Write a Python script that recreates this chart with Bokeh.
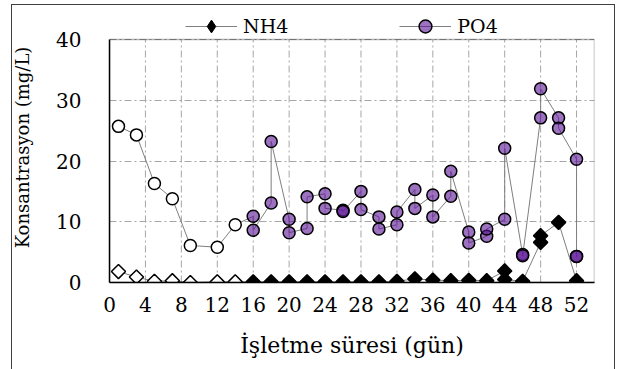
from bokeh.plotting import figure
from bokeh.models import Legend, LegendItem, FixedTicker, InlineStyleSheet, BoxAnnotation
from bokeh.embed import file_html
from bokeh.resources import INLINE

# ---- data ----
po4_days = [1, 3, 5, 7, 9, 12, 14,
            16, 16, 18, 18, 20, 20, 22, 22, 24, 24, 26, 26, 28, 28, 30, 30,
            32, 32, 34, 34, 36, 36, 38, 38, 40, 40, 42, 42, 44, 44, 46, 46,
            48, 48, 50, 50, 52, 52, 52]
po4_vals = [25.7, 24.3, 16.3, 13.8, 6.1, 5.8, 9.5,
            10.9, 8.6, 13.1, 23.2, 10.4, 8.2, 8.9, 14.1, 14.6, 12.2, 11.9, 11.7, 15.0, 12.0, 10.8, 8.8,
            9.5, 11.6, 15.3, 12.2, 14.4, 10.8, 14.2, 18.3, 8.3, 6.5, 7.6, 8.8, 10.4, 22.1, 4.6, 4.4,
            27.1, 31.9, 27.1, 25.4, 20.3, 4.3, 4.3]

nh4_days = [1, 3, 5, 7, 9, 12, 14,
            16, 18, 20, 22, 24, 26, 28, 30, 32, 34, 36, 38, 40, 42, 44, 44, 46,
            48, 48, 50, 52]
nh4_vals = [1.8, 0.9, 0.2, 0.3, 0.0, 0.1, 0.1,
            0.1, 0.1, 0.1, 0.1, 0.1, 0.1, 0.1, 0.1, 0.2, 0.6, 0.4, 0.3, 0.35, 0.3, 1.9, 0.5, 0.2,
            6.6, 7.7, 9.9, 0.3]

n_start = 7  # first samples (days 1-14) drawn with open markers

x_ticks = [0, 4, 8, 12, 16, 20, 24, 28, 32, 36, 40, 44, 48, 52]
y_ticks = [0, 10, 20, 30, 40]
x_max = 54
y_max = 40

FONT = "DejaVu Serif"
line_color = "#7f7f7f"
grid_color = "#a6a6a6"
purple = "#5a1496"

# frame extends above the plot area to leave room for the legend
top_px, bottom_px, height = 12, 87, 369
frame_h = height - top_px - bottom_px
area_h = frame_h - (39 - top_px)
y_top = y_max * frame_h / area_h

p = figure(width=624, height=height, x_range=(0, x_max), y_range=(0, y_top),
           output_backend="svg", toolbar_location=None,
           min_border_left=109, min_border_right=30,
           min_border_top=top_px, min_border_bottom=bottom_px)

p.background_fill_color = "white"
p.border_fill_color = "white"
p.outline_line_color = None

# outer chart border (CSS, does not affect layout)
p.stylesheets = [InlineStyleSheet(css="""
:host { overflow: hidden; }
:host::after { content: ''; position: absolute; left: 11px; top: 4px;
  width: 604px; height: 365px; border: 1.5px solid #404040; border-bottom: none;
  pointer-events: none; box-sizing: border-box; z-index: 10; }
""")]

# horizontal grid
p.ygrid.grid_line_color = grid_color
p.ygrid.grid_line_dash = "7 3 2 3"
p.ygrid.grid_line_width = 1
p.xgrid.visible = False
p.xaxis.ticker = FixedTicker(ticks=x_ticks)
p.yaxis.ticker = FixedTicker(ticks=y_ticks)
p.yaxis.bounds = (0, y_max)

# vertical grid lines limited to the plot area
vx = x_ticks[1:]
p.segment(x0=vx, y0=[0] * len(vx), x1=vx, y1=[y_max] * len(vx),
          line_color=grid_color, line_dash="7 3 2 3", line_width=1)

# plot area border
p.add_layout(BoxAnnotation(left=0, right=x_max, bottom=0, top=y_max,
                           fill_alpha=0, line_color="black", line_width=1.5))

for ax in (p.xaxis, p.yaxis):
    ax.axis_line_color = "black"
    ax.axis_line_width = 1.5
    ax.major_tick_line_color = None
    ax.minor_tick_line_color = None
    ax.major_label_text_font = FONT
    ax.major_label_text_font_size = "20px"
    ax.major_label_text_color = "black"
    ax.axis_label_text_font = FONT
    ax.axis_label_text_font_size = "22px"
    ax.axis_label_text_font_style = "normal"
    ax.axis_label_text_color = "black"

p.xaxis.major_label_standoff = 8
p.yaxis.major_label_standoff = 22
p.xaxis.axis_label = "İşletme süresi (gün)"
p.yaxis.axis_label = "Konsantrasyon (mg/L)"
p.xaxis.axis_label_standoff = 18
p.yaxis.axis_label_standoff = 20
p.yaxis.axis_label_text_font_size = "18px"

po4_line = p.line(po4_days, po4_vals, line_color=line_color, line_width=1)
nh4_line = p.line(nh4_days, nh4_vals, line_color=line_color, line_width=1)

# open markers (start-up period)
p.scatter(po4_days[:n_start], po4_vals[:n_start], marker="circle", size=12,
          fill_color="white", line_color="black", line_width=1.5)
p.scatter(nh4_days[:n_start], nh4_vals[:n_start], marker="square", angle=0.785398, size=10,
          fill_color="white", line_color="black", line_width=1.5)

# filled markers
po4_sc = p.scatter(po4_days[n_start:], po4_vals[n_start:], marker="circle", size=12,
                   fill_color=purple, fill_alpha=0.6, line_color="black", line_width=1.5)
# diamond glyph used for the legend key (hidden under the rotated squares)
nh4_key = p.scatter(nh4_days[n_start:], nh4_vals[n_start:], marker="diamond", size=12,
                    fill_color="black", line_color="black", line_width=1)
p.scatter(nh4_days[n_start:], nh4_vals[n_start:], marker="square", angle=0.785398, size=10,
          fill_color="black", line_color="black", line_width=1.5)

legend = Legend(items=[LegendItem(label="NH4", renderers=[nh4_line, nh4_key]),
                       LegendItem(label="PO4", renderers=[po4_line, po4_sc])],
                orientation="horizontal", location=(76, 240),
                glyph_width=52, glyph_height=32, label_standoff=6, spacing=111,
                padding=0, margin=0, border_line_color=None,
                background_fill_alpha=0,
                label_text_font=FONT, label_text_font_size="19px",
                label_text_color="black")
p.add_layout(legend, "center")

open("out.html", "w").write(file_html(p, INLINE))
